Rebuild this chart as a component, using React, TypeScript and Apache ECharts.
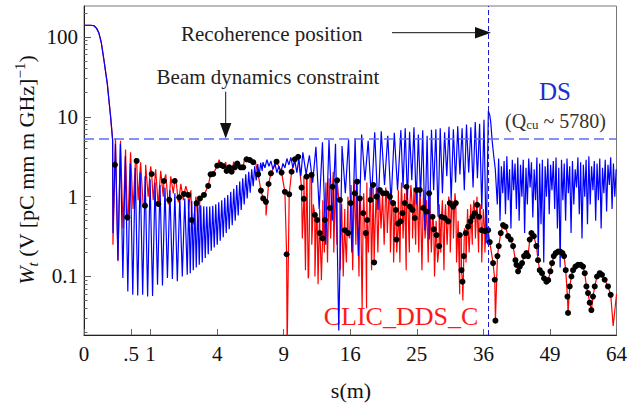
import React, { useEffect, useRef } from 'react';
import * as echarts from 'echarts';

// The horizontal axis is linear in sqrt(s) (s in metres); all positions below are sqrt(s).
const xTickS = [0, 0.5, 1, 4, 9, 16, 25, 36, 49, 64];
const xTickLabels = ['0', '.5', '1', '4', '9', '16', '25', '36', '49', '64'];
const yMajorTicks = [0.1, 1, 10, 100];
const yMinorTicks = [0.02, 0.03, 0.04, 0.05, 0.06, 0.07, 0.08, 0.09, 0.2, 0.3, 0.4, 0.5, 0.6, 0.7, 0.8, 0.9,
  2, 3, 4, 5, 6, 7, 8, 9, 20, 30, 40, 50, 60, 70, 80, 90, 200];
const yMin = 0.0185;
const yMax = 244;

const constraintLevel = 5.3;
const recoherenceS = 37.0;

// initial decay (shared by both structures)
const headRootS = [0, 0.1, 0.15, 0.19, 0.225, 0.26, 0.3, 0.33, 0.35, 0.375, 0.4, 0.43];
const headW = [140, 140, 138, 128, 111, 85, 51, 34, 26, 16, 10, 5.1];

// DS (blue) – sampled on uniform sqrt(s) grids inside each span
const blueA1 = { from: 0.435, to: 1.551, w: [0.35, 4.6, 0.16, 4.6, 0.096, 3.2, 0.065, 2.6, 0.059, 2.3, 0.058, 2.0, 0.059, 1.8, 0.056, 1.65, 0.057, 1.5, 0.079, 1.4, 0.077, 1.3, 0.096, 1.2, 0.093, 1.1, 0.087, 1.02, 0.1, 0.95, 0.105] };
const blueA2 = { from: 1.574, to: 2.677, w: [0.92, 0.11, 0.88, 0.12, 0.84, 0.13, 0.8, 0.14, 0.78, 0.15, 0.76, 0.17, 0.75, 0.19, 0.75, 0.21, 0.77, 0.23, 0.8, 0.25, 0.85, 0.28, 0.9, 0.31, 0.97, 0.35, 1.05, 0.39, 1.15, 0.44, 1.25, 0.5, 1.4, 0.58, 1.55, 0.68, 1.7, 0.8, 1.9, 0.95, 2.05, 1.12, 2.2, 1.35, 2.4, 1.6, 2.55, 1.85, 2.65, 2.1] };
const blueB = { from: 2.688, to: 3.258, w: [2.7, 2.3, 2.9, 2.4, 2.8, 2.2, 2.6, 2.0, 2.4, 2.0, 2.6, 2.3, 3.0, 2.5, 3.1, 2.3, 2.8, 2.0, 3.0, 1.8] };
const blueC = { from: 3.288, to: 4.76, w: [3.6, 1.9, 3.3, 1.5, 4.2, 0.7, 4.8, 0.25, 5.1, 0.5, 4.6, 0.021, 4.3, 1.1, 5.2, 0.2, 5.4, 0.18, 6.0, 1.6, 5.0, 0.9, 6.4, 0.68, 6.6, 1.4, 5.8, 0.83, 6.3, 1.2, 6.8] };
const blueD = { from: 4.793, to: 6.075, w: [1.3, 7.2, 0.9, 6.5, 1.6, 7.4, 0.8, 6.0, 1.0, 6.8, 0.38, 5.8, 0.29, 6.9, 1.2, 7.0, 0.56, 7.2, 1.1, 6.4, 1.8, 7.5, 0.9, 7.0, 1.5, 7.6, 1.9, 7.2, 1.2, 8.0, 2.0, 7.4, 1.3, 8.6, 1.7, 8.2, 0.7, 9.2, 0.26, 11.8] };
const blueFallRootS = [6.096, 6.111, 6.131, 6.156, 6.179];
const blueFallW = [10.5, 8.5, 5.1, 3.2, 2.2];
const blueE = { from: 6.209, to: 7.995, w: [0.8, 3.0, 0.5, 2.4, 1.1, 2.8, 0.6, 3.2, 0.9, 2.2, 0.4, 2.9, 1.2, 2.6, 0.7, 3.1, 0.5, 2.5, 1.0, 2.9, 0.35, 2.3, 0.8, 3.0, 1.3, 2.7, 0.55, 2.2, 0.9, 3.1, 0.18, 2.6, 0.45, 2.9, 0.15, 2.4, 1.0, 3.0, 0.6, 2.5, 1.2, 2.8, 0.7, 3.1, 0.4, 2.3, 0.13, 2.9, 0.9, 2.6, 0.5, 3.0, 1.1, 2.4, 0.35, 2.8, 0.8, 2.2, 1.3, 3.1, 0.6, 2.7, 0.3, 2.5, 1.0, 2.9, 0.45, 3.2, 0.8, 2.4, 1.2, 2.8, 0.5, 2.6, 0.9, 3.0, 0.4, 2.3, 1.1, 2.9, 0.65, 2.5, 1.4, 3.1, 0.7, 2.6, 1.0, 2.2] };

// CLIC_DDS_C (red): early oscillation, dense middle trace, sampled points (black dots), extra spikes
const redA = { from: 0.435, to: 1.757, w: [0.25, 5.4, 0.155, 5.0, 0.4, 3.9, 0.5, 3.6, 0.7, 3.0, 0.9, 2.7, 0.8, 2.5, 1.0, 2.4, 0.9, 2.2, 0.75, 2.1, 1.0, 1.9, 0.8, 1.8, 1.1, 1.7, 0.85, 1.45, 0.9, 1.35, 0.7, 1.2, 0.45, 1.0, 0.38, 0.95] };
const redMid = { from: 3.28, to: 6.07, w: [
  0.3, 1.8, 0.12, 1.6, 0.1, 1.9, 0.25,
  0.8, 0.1, 0.6, 0.08, 0.7, 0.12, 0.9,
  0.2, 1.5, 0.15, 1.7, 0.3, 1.4, 0.2, 1.6, 0.25, 1.0,
  0.12, 0.8, 0.1, 0.7, 0.15, 1.0,
  0.3, 1.4, 0.12, 1.6, 0.25, 1.2, 0.1, 0.9, 0.04, 1.1, 0.3, 1.5, 0.2, 1.3, 0.12,
  1.2, 0.3, 1.3, 0.2, 1.2, 0.4, 1.1, 0.25, 1.3, 0.35, 1.0, 0.2, 0.9, 0.15, 0.8,
  0.2, 1.2, 0.15, 1.5, 0.3, 1.1, 0.12, 0.9, 0.2, 1.4, 0.3, 1.3, 0.25,
  1.3, 0.2, 1.1, 0.12, 1.2, 0.3, 0.9, 0.15, 1.0, 0.2, 0.6, 0.1, 0.5,
  0.15, 0.8, 0.2, 0.9, 0.12, 0.8, 0.25, 1.0, 0.2, 0.9, 0.3, 1.1, 0.15,
  0.5, 0.06, 0.3, 0.05, 0.4,
  0.15, 0.7, 0.2, 0.8, 0.25, 0.9, 0.3, 1.0, 0.2, 0.8, 0.15, 0.7, 0.2, 0.6, 0.25] };

const dotsRootS = [0.465, 0.650, 0.791, 0.916, 1.017, 1.116, 1.201, 1.281, 1.362, 1.431,
  1.502, 1.566, 1.617, 1.692, 1.742, 1.802, 1.866, 1.902, 1.941, 2.002,
  2.053, 2.092, 2.143, 2.182, 2.218, 2.267, 2.302, 2.353, 2.392, 2.443,
  2.492, 2.542, 2.617, 2.658, 2.692, 2.733, 2.773, 2.808, 2.893, 2.968,
  3.018, 3.044, 3.083, 3.119, 3.168, 3.218, 3.269, 3.303, 3.344, 3.419,
  3.468, 3.503, 3.544, 3.584, 3.619, 3.694, 3.734, 3.803, 3.844, 3.919,
  3.968, 4.005, 4.069, 4.104, 4.144, 4.194, 4.234, 4.254, 4.305, 4.344,
  4.359, 4.395, 4.444, 4.494, 4.545, 4.595, 4.644, 4.685, 4.695, 4.719,
  4.755, 4.785, 4.820, 4.845, 4.895, 4.935, 4.970, 4.995, 5.045, 5.095,
  5.146, 5.185, 5.236, 5.255, 5.296, 5.335, 5.371, 5.420, 5.470, 5.495,
  5.545, 5.586, 5.646, 5.671, 5.686, 5.706, 5.736, 5.770, 5.806, 5.836,
  5.871, 5.906, 5.936, 5.971, 6.021, 6.071, 6.096, 6.146, 6.171, 6.181,
  6.211, 6.231, 6.261, 6.296, 6.332, 6.371, 6.411, 6.446, 6.482, 6.497,
  6.521, 6.547, 6.581, 6.611, 6.647, 6.671, 6.697, 6.722, 6.757, 6.797,
  6.821, 6.847, 6.881, 6.911, 6.947, 6.974, 7.007, 7.032, 7.057, 7.087,
  7.122, 7.155, 7.188, 7.212, 7.237, 7.263, 7.272, 7.297, 7.323, 7.347,
  7.383, 7.422, 7.462, 7.497, 7.523, 7.548, 7.572, 7.598, 7.623, 7.647,
  7.673, 7.707, 7.748, 7.782, 7.823, 7.872, 7.913];
const dotsW = [2.5, 0.55, 2.8, 0.77, 1.92, 0.81, 1.57, 0.91, 1.57, 0.98,
  1.08, 1.05, 0.51, 0.83, 0.95, 1.05, 1.36, 1.9, 1.92, 2.44,
  2.5, 2.4, 2.1, 2.33, 2.05, 2.33, 2.6, 2.33, 2.33, 2.93,
  2.87, 2.7, 1.9, 1.19, 0.95, 0.86, 1.44, 1.96, 2.74, 2.0,
  1.15, 0.19, 1.07, 2.05, 2.93, 3.16, 1.30, 0.94, 1.78, 1.87,
  0.59, 0.51, 0.35, 0.30, 0.51, 0.72, 1.33, 1.6, 0.91, 0.38,
  0.35, 0.83, 1.1, 1.54, 0.95, 0.62, 0.35, 0.51, 0.91, 1.4,
  0.15, 1.0, 1.21, 1.1, 1.1, 1.0, 0.83, 0.68, 0.29, 0.46,
  0.49, 0.62, 0.83, 1.33, 0.75, 0.68, 0.54, 1.21, 1.21, 0.72,
  0.65, 1.1, 0.56, 0.39, 0.33, 0.24, 0.56, 0.54, 0.49, 0.83,
  0.75, 0.83, 0.33, 0.12, 0.086, 0.18, 0.35, 0.42, 0.49, 0.56,
  0.62, 0.79, 0.56, 0.38, 0.37, 0.38, 0.27, 0.147, 0.091, 0.028,
  0.18, 0.24, 0.35, 0.44, 0.42, 0.32, 0.29, 0.24, 0.16, 0.14,
  0.116, 0.133, 0.147, 0.18, 0.196, 0.18, 0.29, 0.35, 0.32, 0.24,
  0.16, 0.12, 0.11, 0.095, 0.086, 0.09, 0.116, 0.147, 0.18, 0.196,
  0.205, 0.205, 0.196, 0.18, 0.12, 0.056, 0.035, 0.075, 0.1, 0.12,
  0.133, 0.14, 0.14, 0.133, 0.11, 0.075, 0.062, 0.047, 0.038, 0.056,
  0.075, 0.1, 0.11, 0.105, 0.091, 0.075, 0.059];

const redExtraRootS = [2.03, 2.13, 2.25, 2.41, 2.58, 2.735, 3.052,
  3.368, 3.566, 3.744, 4.245, 5.695, 7.95, 8.0];
const redExtraW = [2.9, 2.7, 2.75, 2.95, 2.6, 0.58, 0.012,
  0.095, 0.09, 2.05, 0.04, 0.05, 0.024, 0.06];

const SERIF = 'Liberation Serif';

type Seg = { from: number; to: number; w: number[] };
const segPairs = (s: Seg) => s.w.map((v, i) => [s.from + ((s.to - s.from) * i) / (s.w.length - 1), v]);
const zipPairs = (xs: number[], ys: number[]) => xs.slice(0, Math.min(xs.length, ys.length)).map((x, i) => [x, ys[i]]);

export default function App() {
  const ref = useRef<HTMLDivElement>(null);
  useEffect(() => {
    if (!ref.current) return;
    const chart = echarts.init(ref.current, undefined, { renderer: 'svg' });
    const head = zipPairs(headRootS, headW);
    const blueData = [
      ...head,
      ...segPairs(blueA1), ...segPairs(blueA2), ...segPairs(blueB), ...segPairs(blueC), ...segPairs(blueD),
      ...zipPairs(blueFallRootS, blueFallW),
      ...segPairs(blueE),
    ];
    const dots = zipPairs(dotsRootS, dotsW);
    const redData = [...head, ...segPairs(redA), ...segPairs(redMid), ...dots, ...zipPairs(redExtraRootS, redExtraW)]
      .sort((a, b) => a[0] - b[0]);
    const xTickRoot = xTickS.map((s) => Math.sqrt(s));
    const xFmt = (v: number) => {
      let best = 0;
      xTickRoot.forEach((t, i) => { if (Math.abs(t - v) < Math.abs(xTickRoot[best] - v)) best = i; });
      return `{t|${xTickLabels[best]}}`;
    };
    const yFmt = (v: number) => `{t|${v < 1 ? String(Number(v.toPrecision(2))) : String(Math.round(v))}}`;
    const labelRich = { t: { fontFamily: SERIF, fontSize: 21, color: '#111', fontWeight: 'normal' } };

    chart.setOption({
      animation: false,
      backgroundColor: '#ffffff',
      textStyle: { fontFamily: SERIF },
      grid: { left: 84, right: 13, top: 6, bottom: 68, show: true, borderColor: '#777', borderWidth: 1 },
      xAxis: {
        type: 'value', min: 0, max: 8,
        axisLine: { show: true, lineStyle: { color: '#222', width: 1 } },
        axisTick: { show: true, inside: true, length: 6, customValues: xTickRoot, lineStyle: { color: '#666' } },
        axisLabel: { customValues: xTickRoot, formatter: xFmt, margin: 8, fontFamily: SERIF, fontSize: 21, color: '#111', rich: labelRich },
        splitLine: { show: false },
      },
      yAxis: [
        {
          type: 'log', min: yMin, max: yMax,
          axisLine: { show: true, lineStyle: { color: '#222', width: 1 } },
          axisTick: { show: true, inside: true, length: 7, customValues: yMajorTicks, lineStyle: { color: '#555' } },
          axisLabel: { customValues: yMajorTicks, formatter: yFmt, margin: 6, fontFamily: SERIF, fontSize: 21, color: '#111', rich: labelRich },
          splitLine: { show: false },
        },
        {
          type: 'log', min: yMin, max: yMax, position: 'left',
          axisLine: { show: false },
          axisTick: { show: true, inside: true, length: 3.5, customValues: yMinorTicks, lineStyle: { color: '#666' } },
          axisLabel: { show: false },
          splitLine: { show: false },
        },
      ],
      series: [
        {
          name: 'CLIC_DDS_C', type: 'line', data: redData, showSymbol: false, symbol: 'none', z: 2, silent: true,
          lineStyle: { color: '#ff0000', width: 1.2 },
        },
        {
          name: 'DS', type: 'line', data: blueData, showSymbol: false, symbol: 'none', z: 3, silent: true,
          lineStyle: { color: '#0000ff', width: 1.2 },
          markLine: {
            silent: true, symbol: 'none', label: { show: false },
            data: [
              { yAxis: constraintLevel, lineStyle: { color: '#5f6ff0', width: 1.5, type: [10, 5] } },
              { xAxis: Math.sqrt(recoherenceS), lineStyle: { color: '#1a1acc', width: 1, type: [5, 3] } },
            ],
          },
        },
        {
          name: 'CLIC_DDS_C samples', type: 'scatter', data: dots, symbolSize: 6, z: 4, silent: true,
          itemStyle: { color: '#000000', opacity: 1, borderWidth: 0 },
        },
      ],
      graphic: [
        { type: 'line', shape: { x1: 392, y1: 32.7, x2: 478, y2: 32.7 }, style: { stroke: '#111', lineWidth: 1 } },
        { type: 'polygon', shape: { points: [[475, 27], [491, 32.7], [475, 38.4]] }, style: { fill: '#111' } },
        { type: 'line', shape: { x1: 225.7, y1: 91.7, x2: 225.7, y2: 124 }, style: { stroke: '#111', lineWidth: 1 } },
        { type: 'polygon', shape: { points: [[220, 123], [231.4, 123], [225.7, 138.5]] }, style: { fill: '#111' } },
        { type: 'text', x: 271.7, y: 34, style: { text: 'Recoherence position', fontFamily: SERIF, fontSize: 21, fill: '#222', align: 'center', verticalAlign: 'middle' } },
        { type: 'text', x: 268, y: 77, style: { text: 'Beam dynamics constraint', fontFamily: SERIF, fontSize: 21, fill: '#222', align: 'center', verticalAlign: 'middle' } },
        { type: 'text', x: 555, y: 91.5, style: { text: 'DS', fontFamily: SERIF, fontSize: 25, fill: '#1c2fd0', align: 'center', verticalAlign: 'middle' } },
        {
          type: 'text', x: 555.5, y: 121,
          style: {
            text: '(Q{sub|cu} ~ 5780)', fontFamily: SERIF, fontSize: 20, fill: '#333', align: 'center', verticalAlign: 'middle',
            rich: { sub: { fontFamily: SERIF, fontSize: 13, fill: '#333', verticalAlign: 'bottom', lineHeight: 12 } },
          },
        },
        { type: 'text', x: 401, y: 316, style: { text: 'CLIC_DDS_C', fontFamily: SERIF, fontSize: 26, fill: '#ff1a1a', align: 'center', verticalAlign: 'middle' } },
        { type: 'text', x: 351, y: 390, style: { text: 's(m)', fontFamily: SERIF, fontSize: 22, fill: '#111', align: 'center', verticalAlign: 'middle' } },
        {
          type: 'text', x: 26, y: 170, rotation: Math.PI / 2,
          style: {
            text: '{i|W}{sub|t} (V [pC mm m GHz]{sup|−1})', fontFamily: SERIF, fontSize: 22, fill: '#111',
            align: 'center', verticalAlign: 'middle', lineHeight: 28,
            rich: {
              i: { fontFamily: SERIF, fontSize: 22, fontStyle: 'italic', fill: '#111', lineHeight: 28 },
              sub: { fontFamily: SERIF, fontSize: 15, fontStyle: 'italic', fill: '#111', verticalAlign: 'bottom', lineHeight: 12 },
              sup: { fontFamily: SERIF, fontSize: 15, fill: '#111', verticalAlign: 'top', lineHeight: 12 },
            },
          },
        },
      ],
    });
    return () => chart.dispose();
  }, []);
  return <div ref={ref} style={{ position: 'fixed', left: 0, top: 0, width: 630, height: 403 }} />;
}
